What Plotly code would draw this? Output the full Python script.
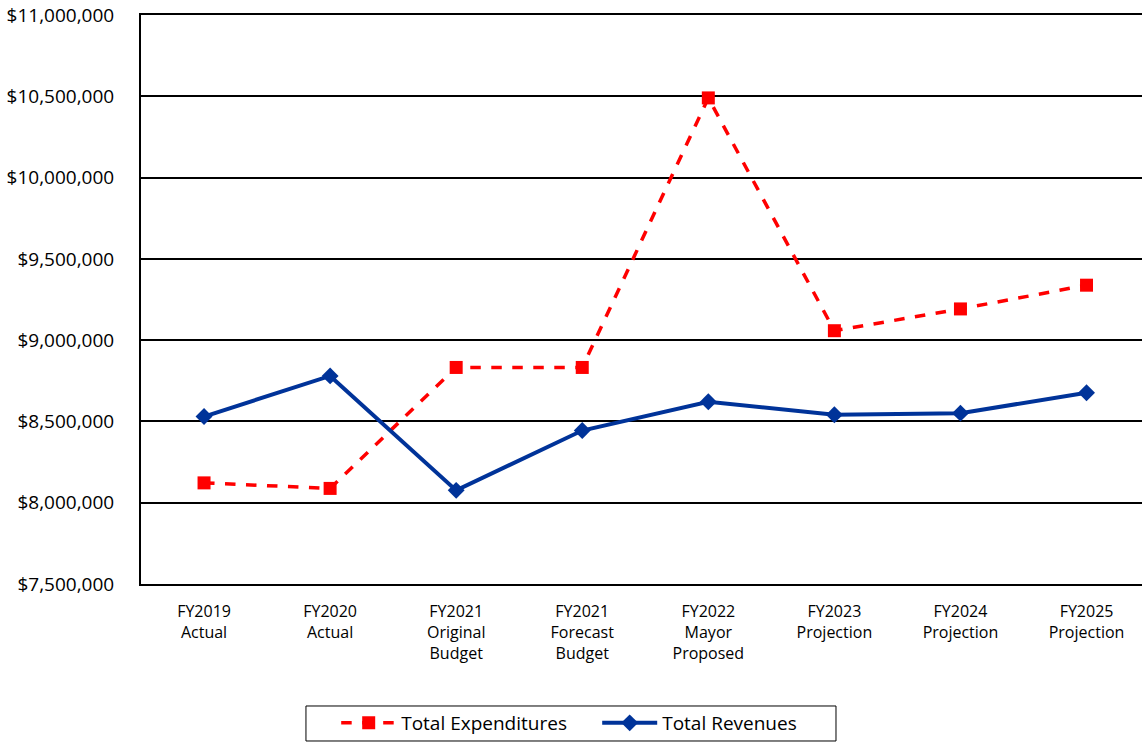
import plotly.graph_objects as go

categories = ["FY2019<br>Actual", "FY2020<br>Actual", "FY2021<br>Original<br>Budget",
              "FY2021<br>Forecast<br>Budget", "FY2022<br>Mayor<br>Proposed",
              "FY2023<br>Projection", "FY2024<br>Projection", "FY2025<br>Projection"]
expenditures = [8122000, 8088000, 8832000, 8832000, 10490000, 9058000, 9192000, 9338000]
revenues = [8530000, 8780000, 8076000, 8444000, 8621000, 8541000, 8551000, 8676000]
y_ticks = [7500000, 8000000, 8500000, 9000000, 9500000, 10000000, 10500000, 11000000]
y_labels = ["$7,500,000", "$8,000,000", "$8,500,000", "$9,000,000", "$9,500,000",
            "$10,000,000", "$10,500,000", "$11,000,000"]

xs = list(range(len(categories)))

fig = go.Figure()
fig.add_trace(go.Scatter(
    x=xs, y=expenditures, name="Total Expenditures", mode="lines+markers",
    line=dict(color="#FF0000", width=3.5, dash="dash"),
    marker=dict(symbol="square", size=13, color="#FF0000"),
))
fig.add_trace(go.Scatter(
    x=xs, y=revenues, name="Total Revenues", mode="lines+markers",
    line=dict(color="#003399", width=4),
    marker=dict(symbol="diamond", size=13, color="#003399"),
))

# legend frame
fig.add_shape(type="rect", xref="paper", yref="paper",
              x0=0.1648, x1=0.6943, y0=-0.2759, y1=-0.2144,
              line=dict(color="#000000", width=1), fillcolor="rgba(0,0,0,0)")

fig.update_layout(
    width=1142, height=742,
    margin=dict(l=141, r=0, t=15, b=158),
    paper_bgcolor="white", plot_bgcolor="white",
    font=dict(family="Open Sans", color="#000000"),
    showlegend=True,
    legend=dict(orientation="h", x=0.195, xanchor="left", y=-0.245, yanchor="middle",
                borderwidth=0, font=dict(size=19), itemwidth=55, entrywidth=191,
                bgcolor="rgba(0,0,0,0)"),
    xaxis=dict(range=[-0.5, 7.44], tickmode="array", tickvals=xs, ticktext=categories,
               showgrid=False, zeroline=False, showline=True, mirror=True,
               linecolor="#000000", linewidth=2, ticks="", automargin=False,
               tickfont=dict(size=16), ticklabelstandoff=12),
    yaxis=dict(range=[7500000, 11000000], tickmode="array", tickvals=y_ticks,
               ticktext=y_labels, showgrid=True, gridcolor="#000000", gridwidth=1.5,
               zeroline=False, showline=True, linecolor="#000000", linewidth=2,
               ticks="", tickfont=dict(size=19), ticklabelstandoff=21,
               ticklabeloverflow="allow", automargin=False),
)
fig.write_html("out.html", config={"displayModeBar": False},
               post_script="document.body.style.margin='0';document.body.style.overflow='hidden';")
